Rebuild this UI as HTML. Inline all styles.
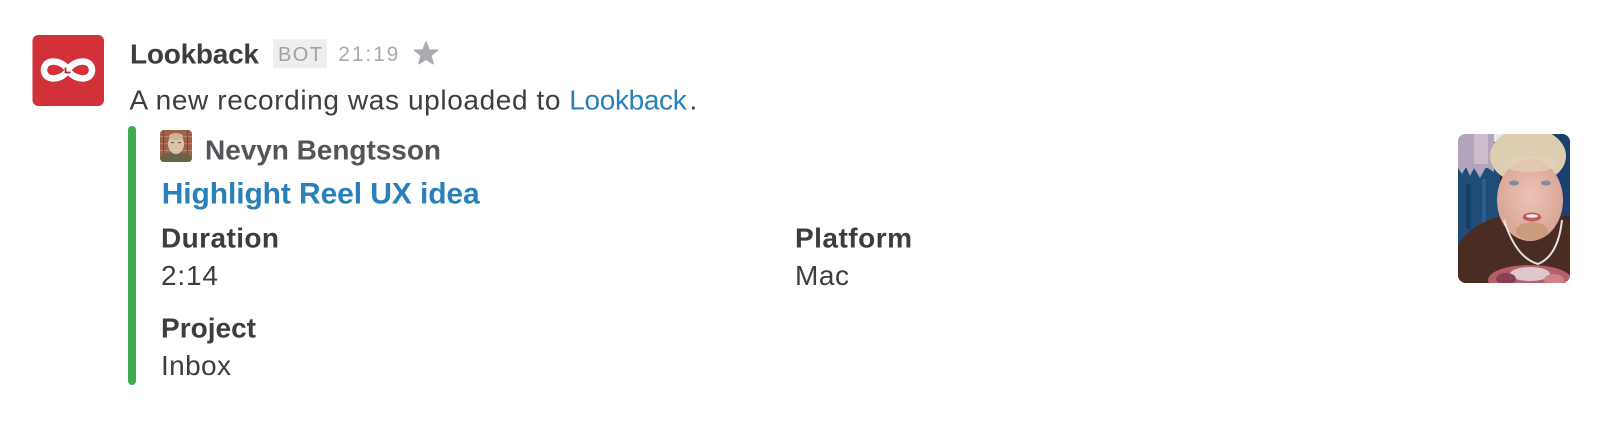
<!DOCTYPE html>
<html>
<head>
<meta charset="utf-8">
<style>
  html, body { margin: 0; padding: 0; background: #ffffff; }
  body { width: 1608px; height: 428px; overflow: hidden; }
  svg { display: block; }
  text { font-family: "Liberation Sans", sans-serif; }
</style>
</head>
<body>
<svg width="1608" height="428" viewBox="0 0 1608 428" xmlns="http://www.w3.org/2000/svg">
  <defs>
    <clipPath id="thumbClip"><rect x="0" y="0" width="112" height="149" rx="8" ry="8"/></clipPath>
    <clipPath id="avClip"><rect x="0" y="0" width="32" height="32" rx="4" ry="4"/></clipPath>
    <radialGradient id="faceG" cx="0.5" cy="0.45" r="0.6">
      <stop offset="0" stop-color="#ecc2b6"/>
      <stop offset="1" stop-color="#d6a292"/>
    </radialGradient>
  </defs>

  <!-- Logo -->
  <rect x="32.5" y="35" width="71.5" height="71" rx="6" ry="6" fill="#d2313a"/>
  <path d="M68,70 C62,59 44,58.5 44,70 C44,81.5 62,81 68,70 C74,59 92,58.5 92,70 C92,81.5 74,81 68,70 Z"
        fill="none" stroke="#ffffff" stroke-width="6.5"/>
  <path d="M65.5,67.5 L65.5,72.5 L70.5,72.5" fill="none" stroke="#b02a30" stroke-width="1.8"/>

  <!-- Header -->
  <text x="130" y="63.3" font-size="28" font-weight="bold" fill="#3d3c40" textLength="129" lengthAdjust="spacing">Lookback</text>
  <rect x="273" y="39.3" width="54" height="29" fill="#eeeeee"/>
  <text x="278" y="61" font-size="20" fill="#a0a0a6" textLength="44" lengthAdjust="spacing">BOT</text>
  <text x="338.3" y="61" font-size="21" fill="#a9a9ae" textLength="60" lengthAdjust="spacing">21:19</text>
  <polygon points="426,42 428.9,50 437.4,50.3 430.8,55.5 433.1,63.7 426,59 418.9,63.7 421.2,55.5 414.6,50.3 423.1,50"
           fill="#aaaab0" stroke="#aaaab0" stroke-width="1.5" stroke-linejoin="round"/>

  <!-- Message -->
  <text x="129.5" y="109.3" font-size="28" fill="#3d3c40" textLength="431" lengthAdjust="spacing">A new recording was uploaded to</text>
  <text x="569.3" y="109.3" font-size="28" fill="#2a80b9" textLength="117.4" lengthAdjust="spacing">Lookback</text>
  <text x="689.5" y="109.3" font-size="28" fill="#3d3c40">.</text>

  <!-- Attachment bar -->
  <rect x="128" y="126" width="8" height="259" rx="4" ry="4" fill="#3fab53"/>

  <!-- Small avatar -->
  <g transform="translate(160,130)">
    <g clip-path="url(#avClip)">
      <rect x="0" y="0" width="32" height="32" fill="#9c6148"/>
      <rect x="0" y="6" width="32" height="1.2" fill="#b98468"/>
      <rect x="0" y="13" width="32" height="1.2" fill="#b98468"/>
      <rect x="0" y="20" width="32" height="1.2" fill="#b98468"/>
      <rect x="3" y="0" width="1.2" height="32" fill="#7e4a36"/>
      <rect x="27" y="0" width="1.2" height="32" fill="#7e4a36"/>
      <path d="M0,32 L0,28 C4,23 10,22 16,22 C22,22 28,23 32,28 L32,32 Z" fill="#6a6248"/>
      <ellipse cx="16" cy="14" rx="8" ry="10" fill="#dcc4aa"/>
      <ellipse cx="16" cy="6.5" rx="7" ry="3.5" fill="#cdb59a"/>
      <rect x="11" y="12" width="3" height="1.2" fill="#6d5a50"/>
      <rect x="18" y="12" width="3" height="1.2" fill="#6d5a50"/>
    </g>
  </g>

  <!-- Author / title -->
  <text x="205" y="159.3" font-size="28" font-weight="bold" fill="#555459" textLength="236" lengthAdjust="spacing">Nevyn Bengtsson</text>
  <text x="161.7" y="203.3" font-size="30" font-weight="bold" fill="#2a80b9" textLength="318" lengthAdjust="spacing">Highlight Reel UX idea</text>

  <!-- Fields -->
  <text x="161" y="247.7" font-size="28" font-weight="bold" fill="#3d3c40" textLength="118" lengthAdjust="spacing">Duration</text>
  <text x="161" y="285" font-size="28" fill="#3d3c40" textLength="57" lengthAdjust="spacing">2:14</text>
  <text x="795" y="247.7" font-size="28" font-weight="bold" fill="#3d3c40" textLength="117" lengthAdjust="spacing">Platform</text>
  <text x="795" y="285" font-size="28" fill="#3d3c40" textLength="54" lengthAdjust="spacing">Mac</text>
  <text x="161" y="337.7" font-size="28" font-weight="bold" fill="#3d3c40" textLength="95" lengthAdjust="spacing">Project</text>
  <text x="161" y="375" font-size="28" fill="#3d3c40" textLength="70" lengthAdjust="spacing">Inbox</text>

  <!-- Thumbnail -->
  <g transform="translate(1458,134)">
    <g clip-path="url(#thumbClip)">
      <rect x="0" y="0" width="112" height="149" fill="#3f2620"/>
      <rect x="0" y="0" width="42" height="110" fill="#1f4d78"/>
      <rect x="0" y="0" width="36" height="34" fill="#b3a3bb"/>
      <rect x="16" y="0" width="14" height="30" fill="#cdbccb"/>
      <path d="M0,34 L4,40 L8,33 L12,42 L16,34 L22,44 L28,33 L36,38 L36,30 L0,30 Z" fill="#b3a3bb"/>
      <rect x="36" y="0" width="24" height="8" fill="#e9e5ee"/>
      <rect x="8" y="50" width="5" height="45" fill="#174068"/>
      <rect x="24" y="45" width="4" height="55" fill="#2a5d8a"/>
      <rect x="92" y="0" width="20" height="82" fill="#1b3f6e"/>
      <path d="M0,112 C8,96 26,86 44,82 L96,80 C104,82 112,86 112,90 L112,149 L0,149 Z" fill="#4a2c23"/>
      <ellipse cx="70" cy="22" rx="38" ry="28" fill="#ddceb2"/>
      <ellipse cx="72" cy="66" rx="33" ry="41" fill="url(#faceG)"/>
      <ellipse cx="72" cy="30" rx="28" ry="8" fill="#e2d2b8" opacity="0.7"/>
      <ellipse cx="56" cy="49" rx="5" ry="2.5" fill="#7d8ea6"/>
      <ellipse cx="88" cy="49" rx="5" ry="2.5" fill="#7d8ea6"/>
      <ellipse cx="72" cy="66" rx="5" ry="8" fill="#e4ae a2" opacity="0"/>
      <ellipse cx="74" cy="97" rx="16" ry="9" fill="#c79a78" opacity="0.85"/>
      <ellipse cx="74" cy="83" rx="9" ry="4.5" fill="#c0565e"/>
      <ellipse cx="74" cy="82" rx="6" ry="1.8" fill="#f4ecec"/>
      <path d="M46,86 Q58,124 80,130 Q100,122 104,86" fill="none" stroke="#e4e2e2" stroke-width="2"/>
      <ellipse cx="72" cy="146" rx="42" ry="15" fill="#b4606a"/>
      <ellipse cx="72" cy="140" rx="20" ry="7" fill="#ddc8cc"/>
      <ellipse cx="48" cy="145" rx="10" ry="6" fill="#8a4050"/>
      <ellipse cx="96" cy="146" rx="10" ry="6" fill="#d08088"/>
    </g>
  </g>
</svg>
</body>
</html>
